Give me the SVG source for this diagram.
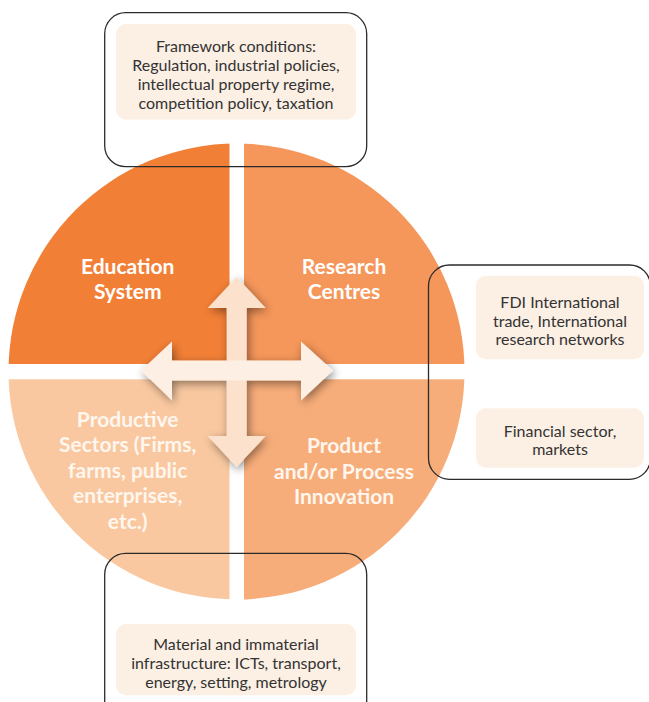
<svg xmlns="http://www.w3.org/2000/svg" width="649" height="702" viewBox="0 0 649 702">
  <defs>
    <style>
      .quad-label { font-family: Lato, "Open Sans", "Liberation Sans", sans-serif; font-weight: 700; font-size: 21px; text-anchor: middle; fill: #ffffff; }
      .quad-label.soft { fill: #fff6ee; }
      .note { font-family: Lato, "Open Sans", "Liberation Sans", sans-serif; font-size: 16px; text-anchor: middle; fill: #333333; }
      .frame { fill: none; stroke: #2b2b2b; stroke-width: 1.3; }
      .note-bg { fill: #fcefe4; }
    </style>
    <clipPath id="disc">
      <circle cx="236.5" cy="371.5" r="228"/>
    </clipPath>
    <filter id="arrow-shadow" x="-30%" y="-30%" width="160%" height="160%">
      <feGaussianBlur in="SourceAlpha" stdDeviation="5"/>
      <feOffset dx="2" dy="3" result="blur"/>
      <feComponentTransfer><feFuncA type="linear" slope="0.45"/></feComponentTransfer>
      <feMerge><feMergeNode/><feMergeNode in="SourceGraphic"/></feMerge>
    </filter>
  </defs>

  <!-- central disc split into four quadrants -->
  <g id="quadrants" clip-path="url(#disc)">
    <g id="education-system">
      <rect x="0" y="140" width="229.5" height="224" fill="#f27f36"/>
      <text class="quad-label" x="127.7" y="274.3">Education</text>
      <text class="quad-label" x="127.7" y="299.3">System</text>
    </g>
    <g id="research-centres">
      <rect x="244" y="140" width="225" height="224" fill="#f5965a"/>
      <text class="quad-label" x="344" y="274.3">Research</text>
      <text class="quad-label" x="344" y="299.3">Centres</text>
    </g>
    <g id="productive-sectors">
      <rect x="0" y="379.3" width="229.5" height="225" fill="#f9c8a0"/>
      <text class="quad-label soft" x="127.7" y="426.7">Productive</text>
      <text class="quad-label soft" x="127.7" y="452.2">Sectors (Firms,</text>
      <text class="quad-label soft" x="127.7" y="477.7">farms, public</text>
      <text class="quad-label soft" x="127.7" y="503.2">enterprises,</text>
      <text class="quad-label soft" x="127.7" y="528.7">etc.)</text>
    </g>
    <g id="product-innovation">
      <rect x="244" y="379.3" width="225" height="225" fill="#f7ad7a"/>
      <text class="quad-label soft" x="344" y="453.3">Product</text>
      <text class="quad-label soft" x="344" y="478.8">and/or Process</text>
      <text class="quad-label soft" x="344" y="504.3">Innovation</text>
    </g>
  </g>

  <!-- connectors: the two double-headed arrows crossing the centre -->
  <g id="connectors" filter="url(#arrow-shadow)">
    <polygon id="vertical-arrow" fill="#fce1cc"
      points="236.7,277 265.7,308 246.7,308 246.7,436 265.7,436 236.7,467 207.7,436 226.7,436 226.7,308 207.7,308"/>
    <polygon id="horizontal-arrow" fill="#fdefe4"
      points="141,370.5 172,341.5 172,360.5 301,360.5 301,341.5 333,370.5 301,400.5 301,380.5 172,380.5 172,400.5"/>
  </g>

  <!-- framework conditions (top) -->
  <g id="framework-conditions">
    <rect class="frame" x="104.7" y="12.7" width="262" height="154" rx="21"/>
    <rect class="note-bg" x="116" y="24" width="240" height="95.5" rx="10"/>
    <text class="note" x="236" y="51.5">Framework conditions:</text>
    <text class="note" x="236" y="70.5">Regulation, industrial policies,</text>
    <text class="note" x="236" y="89.5">intellectual property regime,</text>
    <text class="note" x="236" y="108.8">competition policy, taxation</text>
  </g>

  <!-- international and financial links (right) -->
  <g id="external-links">
    <rect class="frame" x="428.5" y="265" width="222" height="214.3" rx="21"/>
    <g id="fdi-trade">
      <rect class="note-bg" x="476" y="275.7" width="168" height="83.6" rx="10"/>
      <text class="note" x="560" y="307.5">FDI International</text>
      <text class="note" x="560" y="326.5">trade, International</text>
      <text class="note" x="560" y="345.3">research networks</text>
    </g>
    <g id="financial-sector">
      <rect class="note-bg" x="476" y="408.3" width="168" height="59.4" rx="10"/>
      <text class="note" x="560" y="436.7">Financial sector,</text>
      <text class="note" x="560" y="455.2">markets</text>
    </g>
  </g>

  <!-- infrastructure (bottom) -->
  <g id="infrastructure">
    <rect class="frame" x="104.7" y="553.3" width="262" height="170" rx="21"/>
    <rect class="note-bg" x="116" y="624" width="240" height="71.3" rx="10"/>
    <text class="note" x="236" y="650">Material and immaterial</text>
    <text class="note" x="236" y="669">infrastructure: ICTs, transport,</text>
    <text class="note" x="236" y="687.5">energy, setting, metrology</text>
  </g>
</svg>
